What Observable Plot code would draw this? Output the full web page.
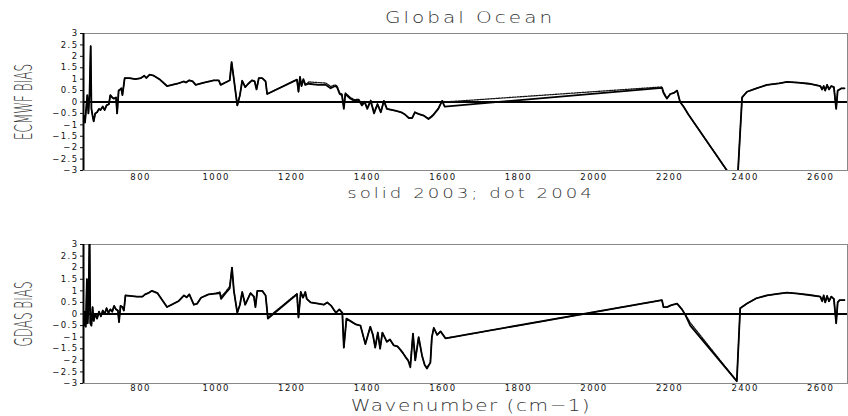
<!DOCTYPE html>
<html><head><meta charset="utf-8">
<script src="https://cdn.jsdelivr.net/npm/d3@7"></script>
<script src="https://cdn.jsdelivr.net/npm/@observablehq/plot@0.6"></script>
<style>
body{margin:0;background:#fff;}
#wrap{position:relative;width:848px;height:416px;overflow:hidden;font-family:"DejaVu Sans",sans-serif;background:#fff;}
.panel{position:absolute;left:0;}
.t{position:absolute;white-space:nowrap;color:#333;line-height:1;}
</style></head><body><div id="wrap"></div>
<script>
const title = "Global Ocean";
const subtitle = "solid 2003; dot 2004";
const xLabel = "Wavenumber (cm\u22121)";
const yLabelTop = "ECMWF BIAS";
const yLabelBot = "GDAS BIAS";
const xTicks = [800, 1000, 1200, 1400, 1600, 1800, 2000, 2200, 2400, 2600];
const yTicks = [-3, -2.5, -2, -1.5, -1, -0.5, 0, 0.5, 1, 1.5, 2, 2.5, 3];

const wnTop = [
 650,653,656,659,662,665,668,670,673,676,
 680,685,690,694,700,705,710,716,720,725,
 729,735,738,742,746,749,752,758,770,787,
 801,810,815,824,835,850,870,897,915,920,
 929,938,946,968,994,1007,1012,1030,1036,1041,
 1047,1056,1063,1069,1077,1085,1095,1102,1107,1113,
 1122,1131,1135,1214,1218,1222,1226,1231,1236,1245,
 1270,1290,1303,1315,1320,1327,1333,1338,1342,1355,
 1366,1377,1386,1393,1400,1409,1418,1427,1436,1444,
 1452,1465,1479,1490,1500,1510,1519,1526,1532,1541,
 1550,1562,1570,1576,1588,1598,1605,2180,2184,2189,
 2193,2202,2212,2220,2228,2237,2250,2352,2366,2380,
 2392,2405,2430,2458,2490,2511,2540,2570,2599,2604,
 2608,2612,2617,2622,2628,2635,2641,2645,2650,2655,
 2663];
const ecmwf2003 = [
 -0.6,-0.9,-0.3,0.3,-0.5,0.35,2.45,-0.3,-0.6,-0.85,
 -0.5,-0.45,-0.3,-0.35,-0.2,-0.35,-0.15,-0.1,0.3,0.2,
 0.15,0.2,-0.5,0.5,0.55,0.6,0.3,1.05,1.05,1.0,
 1.05,1.15,1.05,1.2,1.15,1.0,0.7,0.8,0.9,0.85,
 0.95,0.9,0.75,0.85,0.95,0.95,0.75,0.9,0.95,1.75,
 1.0,-0.15,0.3,0.93,0.65,0.8,0.95,0.9,0.55,1.05,
 1.05,0.9,0.35,0.98,0.45,1.1,0.7,1.0,0.75,0.8,
 0.75,0.75,0.6,0.7,0.65,0.35,0.3,-0.3,0.35,0.15,
 0.05,0.1,-0.15,0.0,-0.3,0.05,-0.5,-0.1,-0.45,0.05,
 -0.3,-0.35,-0.4,-0.45,-0.55,-0.7,-0.7,-0.45,-0.5,-0.55,
 -0.6,-0.75,-0.65,-0.55,-0.3,0.05,-0.2,0.62,0.4,0.25,
 0.15,0.35,0.4,0.5,0.0,-0.2,-0.55,-3.0,-3.6,-3.4,
 0.2,0.45,0.6,0.75,0.82,0.88,0.85,0.8,0.7,0.55,
 0.7,0.5,0.75,0.55,0.7,0.65,-0.3,0.5,0.55,0.6,
 0.6];
const ecmwf2004 = [
 -0.6,-0.9,-0.3,0.3,-0.5,0.35,2.45,-0.3,-0.6,-0.85,
 -0.5,-0.45,-0.3,-0.35,-0.2,-0.35,-0.15,-0.1,0.3,0.2,
 0.15,0.2,-0.5,0.5,0.55,0.6,0.3,1.05,1.05,1.0,
 1.05,1.15,1.05,1.2,1.15,1.0,0.7,0.8,0.9,0.85,
 0.95,0.9,0.75,0.85,0.95,0.95,0.75,0.9,0.95,1.75,
 1.0,-0.15,0.3,0.93,0.65,0.8,0.95,0.9,0.55,1.05,
 1.05,0.9,0.35,0.98,0.45,1.1,0.7,1.0,0.75,0.88,
 0.85,0.83,0.68,0.75,0.7,0.4,0.35,-0.25,0.4,0.2,
 0.1,0.12,-0.1,0.02,-0.25,0.08,-0.45,-0.08,-0.42,0.05,
 -0.3,-0.35,-0.4,-0.45,-0.55,-0.7,-0.7,-0.45,-0.5,-0.55,
 -0.6,-0.72,-0.62,-0.52,-0.28,0.05,0.0,0.66,0.45,0.3,
 0.15,0.35,0.4,0.5,0.0,-0.2,-0.55,-3.0,-3.6,-3.4,
 0.2,0.45,0.6,0.75,0.82,0.88,0.85,0.8,0.7,0.55,
 0.7,0.5,0.75,0.55,0.7,0.65,-0.3,0.5,0.55,0.6,
 0.6];

const wnBot = [
 650,652,655,658,660,662,665,667,670,673,
 676,680,685,690,695,700,705,710,715,720,
 725,730,735,740,743,747,752,756,760,790,
 805,812,820,830,845,870,900,915,922,929,
 941,950,960,980,1000,1010,1013,1025,1036,1042,
 1047,1056,1063,1069,1077,1091,1100,1104,1109,1122,
 1131,1137,1214,1218,1224,1230,1236,1240,1250,1270,
 1285,1294,1305,1317,1326,1334,1338,1345,1360,1370,
 1382,1395,1408,1415,1421,1428,1434,1440,1452,1460,
 1470,1480,1488,1495,1501,1508,1514,1521,1527,1536,
 1545,1552,1558,1567,1571,1576,1585,1594,1607,2180,
 2184,2193,2205,2220,2233,2242,2255,2378,2387,2405,
 2430,2458,2490,2511,2540,2570,2599,2604,2608,2612,
 2617,2622,2628,2635,2641,2645,2650,2655,2663];
const gdas2003 = [
 -0.5,0.1,-0.55,1.5,-0.4,0.2,3.6,-0.4,-0.5,0.3,
 -0.3,0.0,-0.2,0.1,-0.1,0.15,0.0,0.25,0.05,0.2,
 0.1,0.35,0.2,0.15,-0.35,0.35,0.3,0.15,0.8,0.75,
 0.75,0.85,0.9,1.0,0.9,0.3,0.55,0.8,0.72,0.85,
 0.4,0.45,0.7,0.85,0.88,0.9,0.65,0.9,1.1,2.0,
 1.0,0.05,0.4,0.95,0.4,0.9,0.75,0.3,1.0,1.0,
 0.8,-0.2,0.85,-0.15,0.95,0.7,0.95,0.65,0.5,0.45,
 0.4,0.5,0.35,0.05,0.2,0.05,-1.45,-0.2,-0.35,-0.45,
 -0.5,-1.3,-0.55,-0.9,-1.45,-0.8,-1.5,-0.8,-1.2,-1.1,
 -1.35,-1.4,-1.55,-1.7,-1.85,-2.0,-2.3,-0.85,-2.0,-1.0,
 -1.8,-2.2,-2.35,-2.1,-1.0,-0.6,-0.9,-0.75,-1.05,0.6,
 0.3,0.3,0.38,0.45,0.2,-0.05,-0.5,-2.9,0.25,0.45,
 0.68,0.8,0.88,0.92,0.88,0.82,0.75,0.55,0.8,0.5,
 0.78,0.55,0.75,0.65,-0.4,0.5,0.6,0.6,0.6];
const gdas2004 = [
 -0.5,0.1,-0.55,1.5,-0.4,0.2,3.6,-0.4,-0.5,0.3,
 -0.3,0.0,-0.2,0.1,-0.1,0.15,0.0,0.25,0.05,0.2,
 0.1,0.35,0.2,0.15,-0.35,0.35,0.3,0.15,0.8,0.75,
 0.75,0.85,0.9,1.0,0.9,0.3,0.55,0.8,0.72,0.85,
 0.4,0.45,0.7,0.85,0.9,0.95,0.75,0.95,1.2,2.0,
 1.0,0.05,0.4,0.95,0.4,0.9,0.75,0.3,1.0,1.0,
 0.8,-0.15,0.88,-0.15,0.95,0.7,0.95,0.65,0.5,0.45,
 0.4,0.5,0.35,0.05,0.2,0.05,-1.45,-0.2,-0.35,-0.45,
 -0.5,-1.3,-0.55,-0.9,-1.45,-0.8,-1.5,-0.8,-1.2,-1.1,
 -1.35,-1.4,-1.55,-1.7,-1.85,-2.0,-2.2,-0.85,-2.0,-1.0,
 -1.8,-2.2,-2.3,-2.1,-1.0,-0.6,-0.9,-0.75,-1.05,0.6,
 0.3,0.3,0.38,0.45,0.2,-0.02,-0.38,-2.9,0.25,0.45,
 0.68,0.8,0.88,0.92,0.88,0.82,0.75,0.55,0.8,0.5,
 0.78,0.55,0.75,0.65,-0.4,0.5,0.6,0.6,0.6];

const fmt = d => d < 0 ? "\u2212" + String(-d) : String(d);

function panel(wn, s03, s04, o) {
  return Plot.plot({
    width: 848, height: o.height,
    marginLeft: 83, marginRight: 1, marginTop: o.mt, marginBottom: o.mb,
    style: {fontFamily: "DejaVu Sans", fontSize: "8.5px", letterSpacing: "1.4px", color: "#111", background: "transparent", overflow: "visible"},
    x: {domain: [649, 2671], ticks: xTicks, tickSize: 0, tickPadding: o.xpad, label: null, tickFormat: d => String(d)},
    y: {domain: [-3, 3], ticks: yTicks, tickSize: 3, tickPadding: 2, label: null, tickFormat: fmt},
    marks: [
      Plot.frame({stroke: "#888"}),
      Plot.ruleY([0], {stroke: "black", strokeWidth: 2}),
      Plot.line(wn, {x: wn, y: s04, stroke: "#111", strokeWidth: 1.3, strokeDasharray: "1.5,1.2", clip: true}),
      Plot.line(wn, {x: wn, y: s03, stroke: "black", strokeWidth: 1.8, clip: true}),
      Plot.ruleX([649], {stroke: "black", strokeWidth: 2})
    ]
  });
}

const wrap = document.getElementById("wrap");
const top1 = panel(wnTop, ecmwf2003, ecmwf2004, {height: 200, mt: 33, mb: 30, xpad: 3});
top1.classList.add("panel"); top1.style.top = "0px";
wrap.appendChild(top1);
const bot1 = panel(wnBot, gdas2003, gdas2004, {height: 216, mt: 44, mb: 33, xpad: 1});
bot1.classList.add("panel"); bot1.style.top = "200px";
wrap.appendChild(bot1);

function addText(str, cx, cy, size, ls, tf, weight) {
  const d = document.createElement("div");
  d.className = "t";
  d.textContent = str;
  d.style.left = cx + "px";
  d.style.top = cy + "px";
  d.style.fontSize = size + "px";
  d.style.letterSpacing = ls + "px";
  if (weight) d.style.fontWeight = weight;
  d.style.transform = "translate(-50%,-50%) " + tf;
  wrap.appendChild(d);
}
addText(title, 470, 18, 16, 2.4, "scaleX(1.25)", 300);
addText(subtitle, 471, 193, 14.5, 2.4, "scaleX(1.25)", 300);
addText(xLabel, 471, 406, 16, 1.2, "scaleX(1.25)", 300);
addText(yLabelTop, 22.5, 101.5, 25, 0, "rotate(-90deg) scaleX(0.48)", 200);
addText(yLabelBot, 22.5, 313.5, 25, 0, "rotate(-90deg) scaleX(0.48)", 200);
</script></body></html>
